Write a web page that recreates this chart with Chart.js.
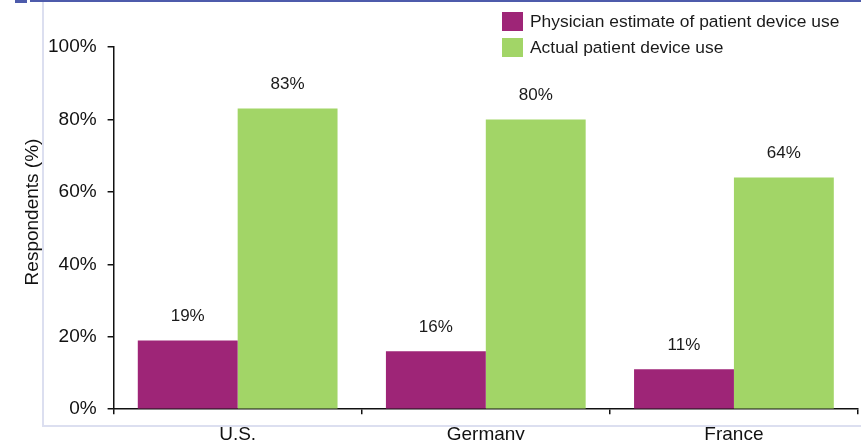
<!DOCTYPE html>
<html>
<head>
<meta charset="utf-8">
<script src="https://cdn.jsdelivr.net/npm/chart.js@4/dist/chart.umd.min.js"></script>
<style>
    html, body { margin: 0; padding: 0; background: #fff; overflow: hidden; }
    #wrap { position: relative; width: 861px; height: 440px; overflow: hidden; }
    #frameTop { position: absolute; left: 30px; top: 0; width: 831px; height: 2px; background: #4d5bab; }
    #frameTab { position: absolute; left: 15px; top: 0; width: 12px; height: 3px; background: #4d5bab; }
    #frameLeft { position: absolute; left: 42px; top: 2px; width: 2px; height: 425px; background: #dcdff0; }
    #frameBottom { position: absolute; left: 42px; top: 425px; width: 819px; height: 2px; background: #dcdff0; }
    #mycanvas { position: absolute; left: 0; top: 0; }
    #legend { position: absolute; left: 502px; top: 8px; font-family: "Liberation Sans", Arial, sans-serif; font-size: 17.4px; color: #1a1a1a; }
    .item { display: flex; align-items: center; height: 26px; }
    .box { width: 21px; height: 19px; margin-right: 7px; }
</style>
</head>
<body>
<div id="wrap">
    <div id="frameTab"></div>
    <div id="frameTop"></div>
    <div id="frameLeft"></div>
    <div id="frameBottom"></div>
    <canvas id="mycanvas" width="861" height="460" style="width:861px;height:460px"></canvas>
    <div id="legend"></div>
</div>
<script>
var countries = ["U.S.", "Germany", "France"];
var physicianEstimate = [19, 16, 11];
var actualUse = [83, 80, 64];
var yTicks = [0, 20, 40, 60, 80, 100];
var seriesNames = ["Physician estimate of patient device use", "Actual patient device use"];
var seriesColors = ["#9e2577", "#a2d567"];

var fontFamily = '"Liberation Sans", Arial, sans-serif';

// value labels above each bar
var valueLabels = {
    id: "valueLabels",
    afterDatasetsDraw: function (chart) {
        var ctx = chart.ctx;
        ctx.save();
        ctx.font = "17px " + fontFamily;
        ctx.fillStyle = "#1a1a1a";
        ctx.textAlign = "center";
        ctx.textBaseline = "middle";
        chart.data.datasets.forEach(function (ds, i) {
            chart.getDatasetMeta(i).data.forEach(function (bar, j) {
                ctx.fillText(ds.data[j] + "%", bar.x, bar.y - 24);
            });
        });
        ctx.restore();
    }
};

// y axis title, placed like the original (not centred on the axis)
var yTitle = {
    id: "yTitle",
    afterDraw: function (chart) {
        var ctx = chart.ctx;
        ctx.save();
        ctx.translate(33, 212);
        ctx.rotate(-Math.PI / 2);
        ctx.font = "19px " + fontFamily;
        ctx.fillStyle = "#111";
        ctx.textAlign = "center";
        ctx.textBaseline = "middle";
        ctx.fillText("Respondents (%)", 0, 0);
        ctx.restore();
    }
};

var ctx = document.getElementById("mycanvas");

var barGraph = new Chart(ctx, {
    type: "bar",
    data: {
        labels: countries,
        datasets: [{
            label: seriesNames[0],
            backgroundColor: seriesColors[0],
            data: physicianEstimate
        }, {
            label: seriesNames[1],
            backgroundColor: seriesColors[1],
            data: actualUse
        }]
    },
    options: {
        responsive: false,
        animation: false,
        devicePixelRatio: 1,
        categoryPercentage: 0.805,
        barPercentage: 1.0,
        layout: { padding: { left: 37, right: 3, top: 47, bottom: 5 } },
        plugins: {
            legend: { display: false },
            tooltip: { enabled: false }
        },
        scales: {
            x: {
                grid: { display: true, drawOnChartArea: false, offset: true, color: "#111", tickLength: 5, lineWidth: 1.5 },
                border: { color: "#111", width: 1.5 },
                ticks: { color: "#111", padding: 9, font: { size: 19, family: fontFamily } }
            },
            y: {
                min: 0,
                max: 100,
                afterBuildTicks: function (axis) {
                    axis.ticks = yTicks.map(function (v) { return { value: v }; });
                },
                grid: { drawOnChartArea: false, color: "#111", tickLength: 6, lineWidth: 1.5 },
                border: { color: "#111", width: 1.5 },
                ticks: {
                    color: "#111",
                    padding: 11,
                    font: { size: 19, family: fontFamily },
                    callback: function (v) { return v + "%"; }
                }
            }
        }
    },
    plugins: [valueLabels, yTitle]
});

// legend built from the same series arrays
var legend = document.getElementById("legend");
seriesNames.forEach(function (name, i) {
    var item = document.createElement("div");
    item.className = "item";
    var box = document.createElement("span");
    box.className = "box";
    box.style.background = seriesColors[i];
    var txt = document.createElement("span");
    txt.textContent = name;
    item.appendChild(box);
    item.appendChild(txt);
    legend.appendChild(item);
});
</script>
</body>
</html>
